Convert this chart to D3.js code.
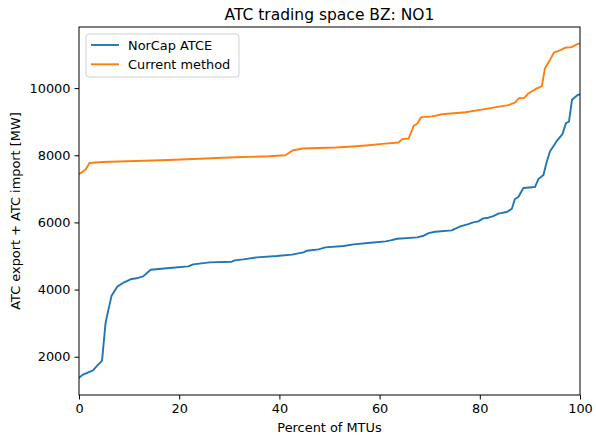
<!DOCTYPE html>
<html>
<head>
<meta charset="utf-8">
<script src="https://cdn.jsdelivr.net/npm/d3@7"></script>
<style>
  body { margin: 0; background: #fff; }
  svg { font-family: "DejaVu Sans", sans-serif; }
</style>
</head>
<body>
<svg id="chart" width="596" height="435"></svg>
<script>
// percent of MTUs (x) and ATC sums (y)
const norcapPct = [0, 0.8, 2.8, 3.5, 4.6, 5.3, 5.8, 6.5, 7.7, 8.8, 10.5, 11.5, 12.8, 14.3, 18.1, 21.8, 22.8, 26.1, 30.5, 31.1, 32.8, 35.5, 39.5, 42.5, 44.8, 45.5, 47.8, 49.2, 52.8, 54.8, 58.2, 61.2, 62.2, 63.5, 67.5, 68.8, 69.8, 71.1, 74.4, 76.1, 77.7, 78.7, 79.7, 80.7, 81.7, 82.7, 83.7, 85.4, 86.4, 87.0, 87.7, 88.7, 91.0, 91.7, 92.7, 93.3, 94.0, 95.3, 96.5, 97.2, 97.8, 98.4, 99.6, 100];
const norcapVal = [1370, 1468, 1596, 1715, 1885, 3006, 3352, 3819, 4096, 4197, 4316, 4336, 4394, 4592, 4643, 4692, 4751, 4811, 4830, 4870, 4900, 4960, 5000, 5040, 5107, 5158, 5198, 5256, 5296, 5345, 5395, 5435, 5464, 5514, 5554, 5604, 5683, 5723, 5762, 5881, 5951, 6000, 6030, 6120, 6140, 6190, 6260, 6310, 6408, 6697, 6756, 7024, 7054, 7292, 7411, 7768, 8114, 8411, 8630, 8958, 9000, 9652, 9800, 9810];

const currentPct = [0, 1.3, 2.1, 4.6, 11.3, 17.9, 25.2, 31.2, 37.9, 41.2, 42.6, 44.6, 51.2, 54.6, 57.9, 60.5, 63.8, 64.5, 65.8, 66.8, 67.5, 68.3, 70.5, 72.5, 77.1, 80.4, 82.4, 85.7, 87.1, 87.8, 88.9, 89.7, 91.0, 92.4, 93.0, 94.0, 94.8, 96.2, 97.0, 98.3, 99.6, 100];
const currentVal = [7441, 7570, 7768, 7800, 7827, 7860, 7905, 7940, 7970, 8000, 8143, 8203, 8230, 8260, 8300, 8340, 8380, 8480, 8500, 8878, 8940, 9137, 9157, 9220, 9280, 9360, 9410, 9494, 9573, 9700, 9710, 9840, 9960, 10060, 10595, 10840, 11060, 11140, 11200, 11220, 11318, 11325];

const seriesNames = ["NorCap ATCE", "Current method"];
const seriesColors = ["#1f77b4", "#ff7f0e"];
const xTicks = [0, 20, 40, 60, 80, 100];
const yTicks = [2000, 4000, 6000, 8000, 10000];

const svg = d3.select("#chart");
const margin = {left: 79, right: 16, top: 27, bottom: 40};
const W = 596, H = 435;

const x = d3.scaleLinear().domain([0, 100]).range([margin.left, W - margin.right]);
const y = d3.scaleLinear().domain([860, 11820]).range([H - margin.bottom, margin.top]);

const toPts = (xs, ys) => xs.map((p, i) => [p, ys[i]]);
const series = [toPts(norcapPct, norcapVal), toPts(currentPct, currentVal)];

const line = d3.line().x(d => x(d[0])).y(d => y(d[1]));

svg.append("defs").append("clipPath").attr("id", "clip")
  .append("rect")
  .attr("x", margin.left).attr("y", margin.top)
  .attr("width", W - margin.left - margin.right)
  .attr("height", H - margin.top - margin.bottom);

svg.append("g").attr("clip-path", "url(#clip)")
  .selectAll("path")
  .data(series)
  .join("path")
  .attr("d", line)
  .attr("fill", "none")
  .attr("stroke", (d, i) => seriesColors[i])
  .attr("stroke-width", 1.9)
  .attr("stroke-linejoin", "round")
  .attr("stroke-linecap", "square");

// axes
const xAxis = svg.append("g")
  .attr("transform", `translate(0,${H - margin.bottom})`)
  .call(d3.axisBottom(x).tickValues(xTicks).tickSize(4.5).tickPadding(4));
const yAxis = svg.append("g")
  .attr("transform", `translate(${margin.left},0)`)
  .call(d3.axisLeft(y).tickValues(yTicks).tickSize(4.5).tickPadding(4).tickFormat(d3.format("d")));

[xAxis, yAxis].forEach(g => {
  g.select(".domain").remove();
  g.selectAll("line").attr("stroke", "#000").attr("stroke-width", 1);
  g.selectAll("text").attr("font-size", 12.9).attr("fill", "#000").attr("font-family", "DejaVu Sans");
});

// frame
svg.append("rect")
  .attr("x", margin.left).attr("y", margin.top)
  .attr("width", W - margin.left - margin.right)
  .attr("height", H - margin.top - margin.bottom)
  .attr("fill", "none").attr("stroke", "#000").attr("stroke-width", 1);

// title and labels
svg.append("text")
  .attr("x", (margin.left + W - margin.right) / 2).attr("y", 20)
  .attr("text-anchor", "middle").attr("font-size", 15.5)
  .text("ATC trading space BZ: NO1");

svg.append("text")
  .attr("x", (margin.left + W - margin.right) / 2).attr("y", 432)
  .attr("text-anchor", "middle").attr("font-size", 12.9)
  .text("Percent of MTUs");

svg.append("text")
  .attr("transform", `translate(20,${(margin.top + H - margin.bottom) / 2}) rotate(-90)`)
  .attr("text-anchor", "middle").attr("font-size", 12.9)
  .text("ATC export + ATC import [MW]");

// legend
const legend = svg.append("g").attr("transform", "translate(86,34)");
legend.append("rect")
  .attr("width", 153).attr("height", 43).attr("rx", 3)
  .attr("fill", "#fff").attr("fill-opacity", 0.8)
  .attr("stroke", "#d0d0d0").attr("stroke-width", 1);
seriesNames.forEach((name, i) => {
  const yy = 11 + i * 19.3;
  legend.append("line")
    .attr("x1", 5).attr("x2", 33).attr("y1", yy).attr("y2", yy)
    .attr("stroke", seriesColors[i]).attr("stroke-width", 1.9);
  legend.append("text")
    .attr("x", 42).attr("y", yy).attr("dy", "0.35em")
    .attr("font-size", 12.9).text(name);
});
</script>
</body>
</html>
